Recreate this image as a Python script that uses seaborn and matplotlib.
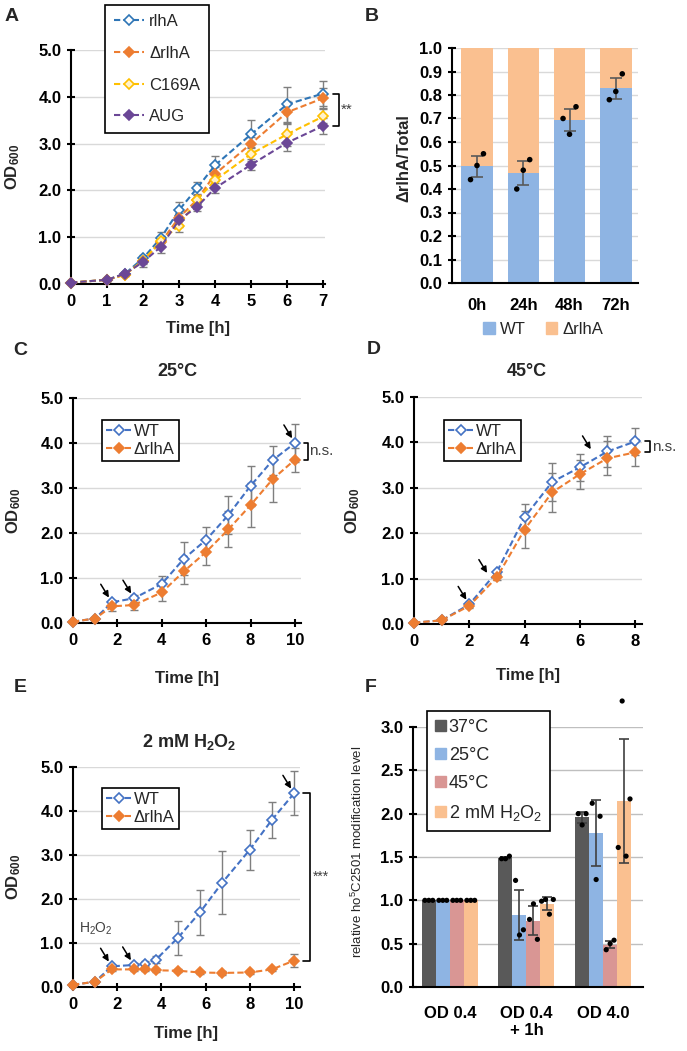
import numpy as np
import pandas as pd
import matplotlib
matplotlib.use("Agg")
import matplotlib.pyplot as plt
from matplotlib.lines import Line2D
from matplotlib.patches import Patch
import seaborn as sns

sns.set_style("white")
plt.rcParams['font.family'] = ['Liberation Sans', 'DejaVu Sans']
plt.rcParams['mathtext.fontset'] = 'custom'
plt.rcParams['mathtext.rm'] = 'Liberation Sans'
plt.rcParams['mathtext.bf'] = 'Liberation Sans:bold'
plt.rcParams['mathtext.it'] = 'Liberation Sans:italic'

# ---------------- data ----------------
# A: growth at 37 °C
time_a = [0, 1, 1.5, 2, 2.5, 3, 3.5, 4, 5, 6, 7]
rlha_a = [0.03, 0.09, 0.22, 0.55, 0.99, 1.58, 2.05, 2.54, 3.20, 3.84, 4.07]
rlha_a_sd = [0.01, 0.02, 0.03, 0.08, 0.12, 0.18, 0.12, 0.20, 0.30, 0.37, 0.26]
drlha_a = [0.03, 0.09, 0.20, 0.50, 0.90, 1.42, 1.80, 2.35, 3.00, 3.67, 3.97]
drlha_a_sd = [0.01, 0.02, 0.03, 0.07, 0.12, 0.15, 0.10, 0.15, 0.15, 0.25, 0.22]
c169a_a = [0.03, 0.09, 0.20, 0.50, 0.92, 1.25, 1.80, 2.22, 2.78, 3.20, 3.58]
c169a_a_sd = [0.01, 0.02, 0.03, 0.06, 0.10, 0.14, 0.10, 0.12, 0.15, 0.25, 0.15]
aug_a = [0.03, 0.09, 0.22, 0.47, 0.80, 1.37, 1.65, 2.05, 2.55, 3.02, 3.38]
aug_a_sd = [0.01, 0.02, 0.03, 0.10, 0.14, 0.15, 0.08, 0.10, 0.12, 0.18, 0.17]
strains_a = ['rlhA', 'ΔrlhA', 'C169A', 'AUG']

# B: competition
times_b = ['0h', '24h', '48h', '72h']
dots_b = [[0.44, 0.50, 0.55], [0.40, 0.48, 0.525],
          [0.70, 0.633, 0.75], [0.78, 0.815, 0.89]]

# C: 25 °C
time_c = [0, 1, 1.75, 2.75, 4, 5, 6, 7, 8, 9, 10]
wt_c = [0.03, 0.10, 0.46, 0.55, 0.87, 1.43, 1.85, 2.40, 3.05, 3.62, 4.00]
wt_c_sd = [0.01, 0.02, 0.06, 0.08, 0.18, 0.37, 0.28, 0.42, 0.44, 0.32, 0.43]
drlha_c = [0.03, 0.10, 0.37, 0.40, 0.68, 1.15, 1.58, 2.08, 2.62, 3.20, 3.63]
drlha_c_sd = [0.01, 0.02, 0.10, 0.12, 0.20, 0.28, 0.29, 0.40, 0.49, 0.50, 0.27]

# D: 45 °C
time_d = [0, 1, 2, 3, 4, 5, 6, 7, 8]
wt_d = [0.03, 0.08, 0.43, 1.15, 2.35, 3.13, 3.45, 3.80, 4.02]
wt_d_sd = [0.01, 0.02, 0.05, 0.05, 0.30, 0.42, 0.30, 0.35, 0.30]
drlha_d = [0.03, 0.08, 0.40, 1.03, 2.08, 2.90, 3.30, 3.65, 3.78]
drlha_d_sd = [0.01, 0.02, 0.05, 0.05, 0.40, 0.43, 0.32, 0.37, 0.30]

# E: 2 mM H2O2
time_e = [0, 1, 1.75, 2.75, 3.25, 3.75, 4.75, 5.75, 6.75, 8, 9, 10]
wt_e = [0.05, 0.12, 0.47, 0.50, 0.53, 0.62, 1.12, 1.70, 2.37, 3.12, 3.80, 4.40]
wt_e_sd = [0.01, 0.02, 0.04, 0.05, 0.05, 0.08, 0.39, 0.51, 0.72, 0.45, 0.41, 0.50]
drlha_e = [0.05, 0.12, 0.40, 0.40, 0.40, 0.38, 0.37, 0.33, 0.32, 0.33, 0.40, 0.60]
drlha_e_sd = [0.01, 0.02, 0.04, 0.04, 0.04, 0.04, 0.04, 0.04, 0.05, 0.04, 0.04, 0.15]

# F: ho5C2501 modification
groups_f = ['OD 0.4', 'OD 0.4\n+ 1h', 'OD 4.0']
conds_f = ['37°C', '25°C', '45°C', '2 mM H$_2$O$_2$']
dots_f = {
    '37°C': [[1.0, 1.0, 1.0], [1.48, 1.48, 1.51], [2.0, 1.87, 2.0]],
    '25°C': [[1.0, 1.0, 1.0], [1.23, 0.60, 0.66], [2.12, 1.24, 1.97]],
    '45°C': [[1.0, 1.0, 1.0], [0.78, 0.96, 0.55], [0.43, 0.50, 0.54]],
    '2 mM H$_2$O$_2$': [[1.0, 1.0, 1.0], [0.99, 1.01, 0.84, 1.01],
                        [1.61, 3.30, 1.51, 2.17]],
}

# ---------------- style ----------------
BLUE_A, ORANGE, YELLOW, PURPLE = '#2E75B6', '#ED7D31', '#FFC000', '#6B4796'
BLUE = '#4472C4'
BAR_BLUE, BAR_ORANGE = '#8EB4E3', '#FAC090'
F_COLORS = ['#595959', '#8EB4E3', '#D99694', '#FAC090']
ERR = '#7F7F7F'
DASH = (0, (3, 1.5))

W, H = 687, 1051
fig = plt.figure(figsize=(W / 100, H / 100), dpi=100)


def box(l, t, r, b):
    return [l / W, 1 - b / H, (r - l) / W, (b - t) / H]


def fpos(x, y):
    return (x / W, 1 - y / H)


def style_axes(ax, grid='#D9D9D9'):
    ax.spines[['top', 'right']].set_visible(False)
    for s in ['left', 'bottom']:
        ax.spines[s].set_linewidth(1.5)
        ax.spines[s].set_color('black')
    ax.yaxis.grid(True, color=grid, lw=1)
    ax.xaxis.grid(False)
    ax.set_axisbelow(True)
    ax.tick_params(direction='inout', length=6, width=1.5, labelsize=12,
                   pad=4, colors='black', left=True, bottom=True)


def bold_ticks(ax):
    for lab in ax.get_xticklabels() + ax.get_yticklabels():
        lab.set_fontweight('bold')


def place_ylabel(ax, xc, yc=0.5):
    ax.yaxis.set_label_coords(xc, yc)
    ax.yaxis.label.set_va('center')


def od_ylabel(ax, xc):
    ax.set_ylabel(r'OD$_\mathbf{600}$', fontsize=12, fontweight='bold')
    place_ylabel(ax, xc)


def time_xlabel(ax, yc):
    ax.set_xlabel('Time [h]', fontsize=12, fontweight='bold')
    ax.xaxis.set_label_coords(0.5, yc)
    ax.xaxis.label.set_va('center')


def growth(ax, t, series):
    for y, sd, color, face in series:
        ax.errorbar(t, y, yerr=sd, fmt='none', ecolor=ERR, elinewidth=1,
                    capsize=3, capthick=1, zorder=2, clip_on=False)
        sns.lineplot(x=t, y=y, ax=ax, color=color, linestyle=DASH, lw=1.5,
                     marker='D', markersize=5.5, markerfacecolor=face,
                     markeredgecolor=color, markeredgewidth=1.2,
                     errorbar=None, clip_on=False, zorder=3)


def handle(color, face):
    return Line2D([], [], color=color, linestyle=DASH, lw=1.5, marker='D',
                  markersize=5.5, markerfacecolor=face, markeredgecolor=color,
                  markeredgewidth=1.2)


def bracket(ax, x0, x1, ytop, ybot, text, tx, ty, size=11):
    ax.plot([x0, x1, x1, x0], [ytop, ytop, ybot, ybot], color='black',
            lw=1.2, clip_on=False)
    ax.text(tx, ty, text, fontsize=size, color='#404040', ha='left',
            va='center', clip_on=False)


def arrow(ax, x, y, dx=-8, dy=13):
    ax.annotate('', xy=(x, y), xytext=(dx, dy), textcoords='offset points',
                arrowprops=dict(arrowstyle='-|>', mutation_scale=9,
                                color='black', lw=1.1, shrinkA=0, shrinkB=4))


def growth_axes(ax, xmax, xticks):
    style_axes(ax)
    ax.set_ylim(0, 5)
    ax.set_xlim(0, xmax)
    ax.set_yticks(np.arange(0, 5.01, 1.0))
    ax.set_yticklabels([f'{v:.1f}' for v in np.arange(0, 5.01, 1.0)])
    ax.set_xticks(xticks)
    ax.set_xticklabels([str(v) for v in xticks])
    bold_ticks(ax)


# ---------------- panel A ----------------
ax_a = fig.add_axes(box(71, 50, 325, 284))
growth(ax_a, time_a, [(rlha_a, rlha_a_sd, BLUE_A, 'white'),
                      (drlha_a, drlha_a_sd, ORANGE, ORANGE),
                      (c169a_a, c169a_a_sd, YELLOW, '#FFF2CC'),
                      (aug_a, aug_a_sd, PURPLE, PURPLE)])
growth_axes(ax_a, 7.05, list(range(0, 8)))
od_ylabel(ax_a, -0.23)
time_xlabel(ax_a, -0.19)
bracket(ax_a, 7.27, 7.43, rlha_a[-1], aug_a[-1], '**', 7.5,
        (rlha_a[-1] + aug_a[-1]) / 2)
fig.legend([handle(BLUE_A, 'white'), handle(ORANGE, ORANGE),
            handle(YELLOW, '#FFF2CC'), handle(PURPLE, PURPLE)], strains_a,
           loc='upper left', bbox_to_anchor=fpos(105, 5), fontsize=12,
           frameon=True, fancybox=False, edgecolor='black', framealpha=1,
           handlelength=1.8, handletextpad=0.3, labelspacing=1.0,
           borderpad=0.55, borderaxespad=0).get_frame().set_linewidth(1.2)

# ---------------- panel B ----------------
ax_b = fig.add_axes(box(452, 48, 638, 283))
mean_b = [np.mean(d) for d in dots_b]
sd_b = [np.std(d) for d in dots_b]
sns.barplot(x=times_b, y=[1.0] * len(times_b), ax=ax_b, color=BAR_ORANGE,
            saturation=1, width=0.68, errorbar=None, linewidth=0)
sns.barplot(x=times_b, y=mean_b, ax=ax_b, color=BAR_BLUE, saturation=1,
            width=0.68, errorbar=None, linewidth=0)
xb = np.arange(len(times_b))
ax_b.errorbar(xb, mean_b, yerr=sd_b, fmt='none', ecolor='#595959',
              elinewidth=1.2, capsize=4, capthick=1.2, zorder=4)
for i, d in enumerate(dots_b):
    sns.scatterplot(x=xb[i] + np.linspace(-0.14, 0.14, len(d)), y=d, ax=ax_b,
                    color='black', s=16, edgecolor='none', zorder=5,
                    legend=False)
style_axes(ax_b)
ax_b.set_ylim(0, 1.0)
ax_b.set_xlim(-0.54, 3.48)
ax_b.set_yticks(np.arange(0, 1.01, 0.1))
ax_b.set_yticklabels([f'{v:.1f}' for v in np.arange(0, 1.01, 0.1)])
ax_b.set_xticks(xb)
ax_b.set_xticklabels(times_b)
ax_b.tick_params(axis='x', length=0, pad=11)
bold_ticks(ax_b)
ax_b.set_ylabel('ΔrlhA/Total', fontsize=12, fontweight='bold')
place_ylabel(ax_b, -0.26, 0.53)
ax_b.set_xlabel('')
fig.legend([Patch(color=BAR_BLUE), Patch(color=BAR_ORANGE)], ['WT', 'ΔrlhA'],
           loc='center', bbox_to_anchor=fpos(543, 329), ncol=2, fontsize=12,
           frameon=False, handlelength=0.7, handleheight=0.7,
           handletextpad=0.3, columnspacing=1.2, borderaxespad=0)

# ---------------- panel C ----------------
ax_c = fig.add_axes(box(73, 398, 301, 623))
growth(ax_c, time_c, [(wt_c, wt_c_sd, BLUE, 'white'),
                      (drlha_c, drlha_c_sd, ORANGE, ORANGE)])
growth_axes(ax_c, 10.27, list(range(0, 11, 2)))
od_ylabel(ax_c, -0.26)
time_xlabel(ax_c, -0.245)
bracket(ax_c, 10.4, 10.6, wt_c[-1], drlha_c[-1], 'n.s.', 10.63,
        (wt_c[-1] + drlha_c[-1]) / 2)
arrow(ax_c, time_c[2], wt_c[2])
arrow(ax_c, time_c[3], wt_c[3])
arrow(ax_c, time_c[-1], wt_c[-1])
two_handles = [handle(BLUE, 'white'), handle(ORANGE, ORANGE)]
leg_kw = dict(loc='upper left', fontsize=12, frameon=True, fancybox=False,
              edgecolor='black', framealpha=1, handlelength=1.5,
              handletextpad=0.15, labelspacing=0.15, borderpad=0.25,
              borderaxespad=0)
fig.legend(two_handles, ['WT', 'ΔrlhA'], bbox_to_anchor=fpos(102, 420),
           **leg_kw).get_frame().set_linewidth(1.2)
fig.text(*fpos(177, 371), '25°C', ha='center', va='center', fontsize=13,
         fontweight='bold')

# ---------------- panel D ----------------
ax_d = fig.add_axes(box(414, 397, 642, 624))
growth(ax_d, time_d, [(wt_d, wt_d_sd, BLUE, 'white'),
                      (drlha_d, drlha_d_sd, ORANGE, ORANGE)])
growth_axes(ax_d, 8.25, list(range(0, 9, 2)))
od_ylabel(ax_d, -0.268)
time_xlabel(ax_d, -0.225)
bracket(ax_d, 8.37, 8.55, wt_d[-1], drlha_d[-1], 'n.s.', 8.6,
        (wt_d[-1] + drlha_d[-1]) / 2)
arrow(ax_d, time_d[2], wt_d[2])
arrow(ax_d, 2.75, np.interp(2.75, time_d, wt_d) + 0.05)
arrow(ax_d, 6.5, np.interp(6.5, time_d, wt_d) + 0.12)
fig.legend(two_handles, ['WT', 'ΔrlhA'], bbox_to_anchor=fpos(444, 420),
           **leg_kw).get_frame().set_linewidth(1.2)
fig.text(*fpos(527, 371), '45°C', ha='center', va='center', fontsize=13,
         fontweight='bold')

# ---------------- panel E ----------------
ax_e = fig.add_axes(box(73, 767, 300, 987))
growth(ax_e, time_e, [(wt_e, wt_e_sd, BLUE, 'white'),
                      (drlha_e, drlha_e_sd, ORANGE, ORANGE)])
growth_axes(ax_e, 10.27, list(range(0, 11, 2)))
od_ylabel(ax_e, -0.26)
time_xlabel(ax_e, -0.21)
bracket(ax_e, 10.4, 10.7, wt_e[-1], drlha_e[-1], '***', 10.85,
        (wt_e[-1] + drlha_e[-1]) / 2, size=10)
arrow(ax_e, time_e[2], wt_e[2])
ax_e.text(time_e[2] - 0.7, wt_e[2] + 0.85, 'H$_2$O$_2$', fontsize=10,
          color='#404040', ha='center', va='center')
arrow(ax_e, time_e[3], wt_e[3])
arrow(ax_e, time_e[-1], wt_e[-1])
fig.legend(two_handles, ['WT', 'ΔrlhA'], bbox_to_anchor=fpos(102, 788),
           **leg_kw).get_frame().set_linewidth(1.2)
fig.text(*fpos(189, 742), r'2 mM H$_\mathbf{2}$O$_\mathbf{2}$', ha='center',
         va='center', fontsize=13, fontweight='bold')

# ---------------- panel F ----------------
ax_f = fig.add_axes(box(413, 727, 643, 987))
rows = []
for c in conds_f:
    for g, d in zip(groups_f, dots_f[c]):
        rows.append({'group': g, 'cond': c, 'mean': np.mean(d),
                     'sd': np.std(d)})
df_f = pd.DataFrame(rows)
group_w = 0.73
bar_w = group_w / len(conds_f)
sns.barplot(data=df_f, x='group', y='mean', hue='cond', order=groups_f,
            hue_order=conds_f, palette=F_COLORS, saturation=1, width=group_w,
            errorbar=None, linewidth=0, legend=False, ax=ax_f)
for hi, c in enumerate(conds_f):
    sub = df_f[df_f['cond'] == c]
    xs = np.arange(len(groups_f)) + (hi - (len(conds_f) - 1) / 2) * bar_w
    ax_f.errorbar(xs, sub['mean'], yerr=sub['sd'], fmt='none',
                  ecolor='#404040', elinewidth=1.2, capsize=3.5,
                  capthick=1.2, zorder=4)
    for x, d in zip(xs, dots_f[c]):
        half = (len(d) - 1) * 0.14 * bar_w
        sns.scatterplot(x=x + np.linspace(-half, half, len(d)), y=d, ax=ax_f,
                        color='black', s=14, edgecolor='none', zorder=5,
                        legend=False, clip_on=False)
style_axes(ax_f, grid='#BFBFBF')
ax_f.set_ylim(0, 3.0)
ax_f.set_xlim(-0.48, 2.52)
ax_f.set_yticks(np.arange(0, 3.01, 0.5))
ax_f.set_yticklabels([f'{v:.1f}' for v in np.arange(0, 3.01, 0.5)])
ax_f.set_xticks(range(len(groups_f)))
ax_f.set_xticklabels(groups_f, linespacing=1.1)
ax_f.tick_params(axis='x', length=0, pad=14)
bold_ticks(ax_f)
ax_f.set_xlabel('')
ax_f.set_ylabel(r'relative ho$^5$C2501 modification level', fontsize=9.5)
place_ylabel(ax_f, -0.24, 0.52)
fig.legend([Patch(color=c) for c in F_COLORS], conds_f, loc='upper left',
           bbox_to_anchor=fpos(427, 711), fontsize=13, frameon=True,
           fancybox=False, edgecolor='black', framealpha=1,
           handlelength=0.6, handleheight=0.6, handletextpad=0.15,
           labelspacing=0.6, borderpad=0.45,
           borderaxespad=0).get_frame().set_linewidth(1.2)

# ---------------- panel letters ----------------
for letter, x, y in [('A', 5, 8), ('B', 365, 8), ('C', 13, 342),
                     ('D', 367, 341), ('E', 14, 679), ('F', 365, 679)]:
    fig.text(*fpos(x, y), letter, ha='left', va='top', fontsize=14,
             fontweight='bold')

fig.savefig('out.png', dpi=100)
plt.close(fig)
